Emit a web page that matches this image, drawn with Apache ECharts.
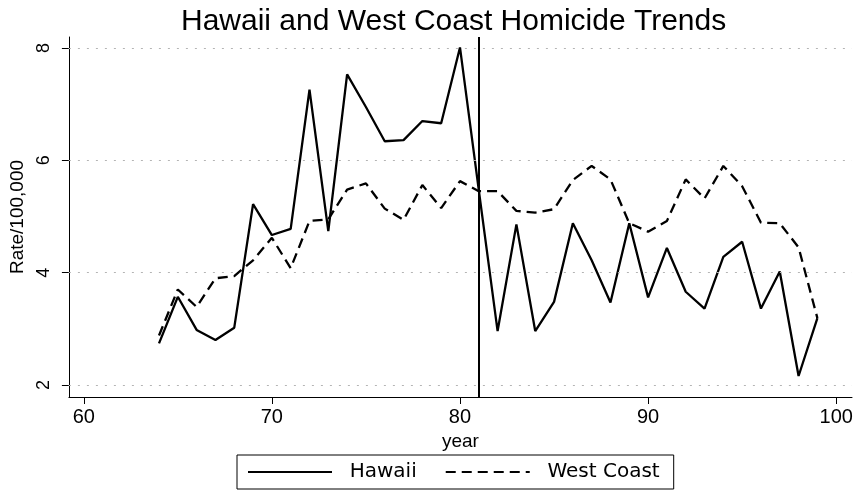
<!DOCTYPE html>
<html>
<head>
<meta charset="utf-8">
<script src="https://cdn.jsdelivr.net/npm/echarts@6/dist/echarts.min.js"></script>
<style>
  html, body { margin: 0; padding: 0; background: #fff; }
  #main { width: 863px; height: 493px; }
</style>
</head>
<body>
<div id="main"></div>
<script>
// 数据
var years = [64,65,66,67,68,69,70,71,72,73,74,75,76,77,78,79,80,81,
  82,83,84,85,86,87,88,89,90,91,92,93,94,95,96,97,98,99];
var hawaii = [2.74,3.57,2.98,2.80,3.02,5.22,4.67,4.78,7.26,4.74,7.53,6.95,6.34,6.36,6.70,6.66,8.01,5.47,
  2.96,4.86,2.96,3.48,4.88,4.22,3.47,4.88,3.56,4.44,3.66,3.36,4.28,4.55,3.36,4.02,2.16,3.19];
var westCoast = [2.88,3.70,3.39,3.90,3.94,4.22,4.62,4.08,4.92,4.95,5.48,5.59,5.14,4.94,5.56,5.15,5.63,5.45,
  5.45,5.10,5.07,5.13,5.65,5.90,5.66,4.88,4.73,4.92,5.66,5.32,5.90,5.54,4.89,4.88,4.45,3.19];
var xTicks = [60,70,80,90,100];
var yTicks = [2,4,6,8];
var breakYear = 81;

function pairs(vals) {
  return years.map(function (y, i) { return [y, vals[i]]; });
}

var font = 'Liberation Sans, Arial, sans-serif';
var myChart = echarts.init(document.getElementById('main'));
var option = {
  animation: false,
  backgroundColor: '#fff',
  title: {
    text: 'Hawaii and West Coast Homicide Trends',
    left: 176,
    top: 2,
    textStyle: { fontFamily: font, fontSize: 30, fontWeight: 'normal', color: '#000' }
  },
  legend: {
    left: 237,
    top: 455,
    padding: [7, 14, 7, 10],
    borderColor: '#000',
    borderWidth: 1,
    itemWidth: 84,
    itemHeight: 14,
    itemGap: 28,
    itemStyle: { opacity: 0 },
    formatter: function (name) { return '  ' + name; },
    textStyle: { fontFamily: 'DejaVu Sans, sans-serif', fontSize: 20, color: '#000' },
    data: ['Hawaii', 'West Coast']
  },
  grid: { left: 63, right: 11, top: 37, bottom: 96 },
  xAxis: {
    type: 'value',
    min: 59.21,
    max: 100.84,
    name: 'year',
    nameLocation: 'middle',
    nameGap: 30,
    nameTextStyle: { fontFamily: font, fontSize: 19, color: '#000' },
    axisLine: { lineStyle: { color: '#000', width: 1 } },
    axisTick: { length: 7, customValues: xTicks, lineStyle: { color: '#000' } },
    axisLabel: { customValues: xTicks, margin: 10, fontFamily: font, fontSize: 20, color: '#000' },
    splitLine: { show: false }
  },
  yAxis: {
    type: 'value',
    min: 1.786,
    max: 8.196,
    name: 'Rate/100,000',
    nameLocation: 'middle',
    nameGap: 37,
    nameTextStyle: { fontFamily: font, fontSize: 19, color: '#000' },
    axisLine: { show: true, lineStyle: { color: '#000', width: 1 } },
    axisTick: { show: true, length: 7, customValues: yTicks, lineStyle: { color: '#000' } },
    axisLabel: { customValues: yTicks, rotate: 90, margin: 16, fontFamily: font, fontSize: 18, color: '#000' },
    splitLine: { show: false }
  },
  series: [
    {
      name: 'Hawaii',
      type: 'line',
      data: pairs(hawaii),
      symbol: 'none',
      lineStyle: { color: '#000', width: 2.3, type: 'solid' },
      itemStyle: { color: '#000' },
      z: 3,
      markLine: {
        silent: true,
        symbol: 'none',
        label: { show: false },
        data: yTicks.map(function (v) {
          return { yAxis: v, lineStyle: { color: '#b4b4b4', width: 1, type: [2, 7] } };
        }).concat([{ xAxis: breakYear, lineStyle: { color: '#000', width: 2, type: 'solid' } }])
      }
    },
    {
      name: 'West Coast',
      type: 'line',
      data: pairs(westCoast),
      symbol: 'none',
      lineStyle: { color: '#000', width: 2.3, type: [10, 6] },
      itemStyle: { color: '#000' },
      z: 2
    }
  ]
};
myChart.setOption(option);
</script>
</body>
</html>
